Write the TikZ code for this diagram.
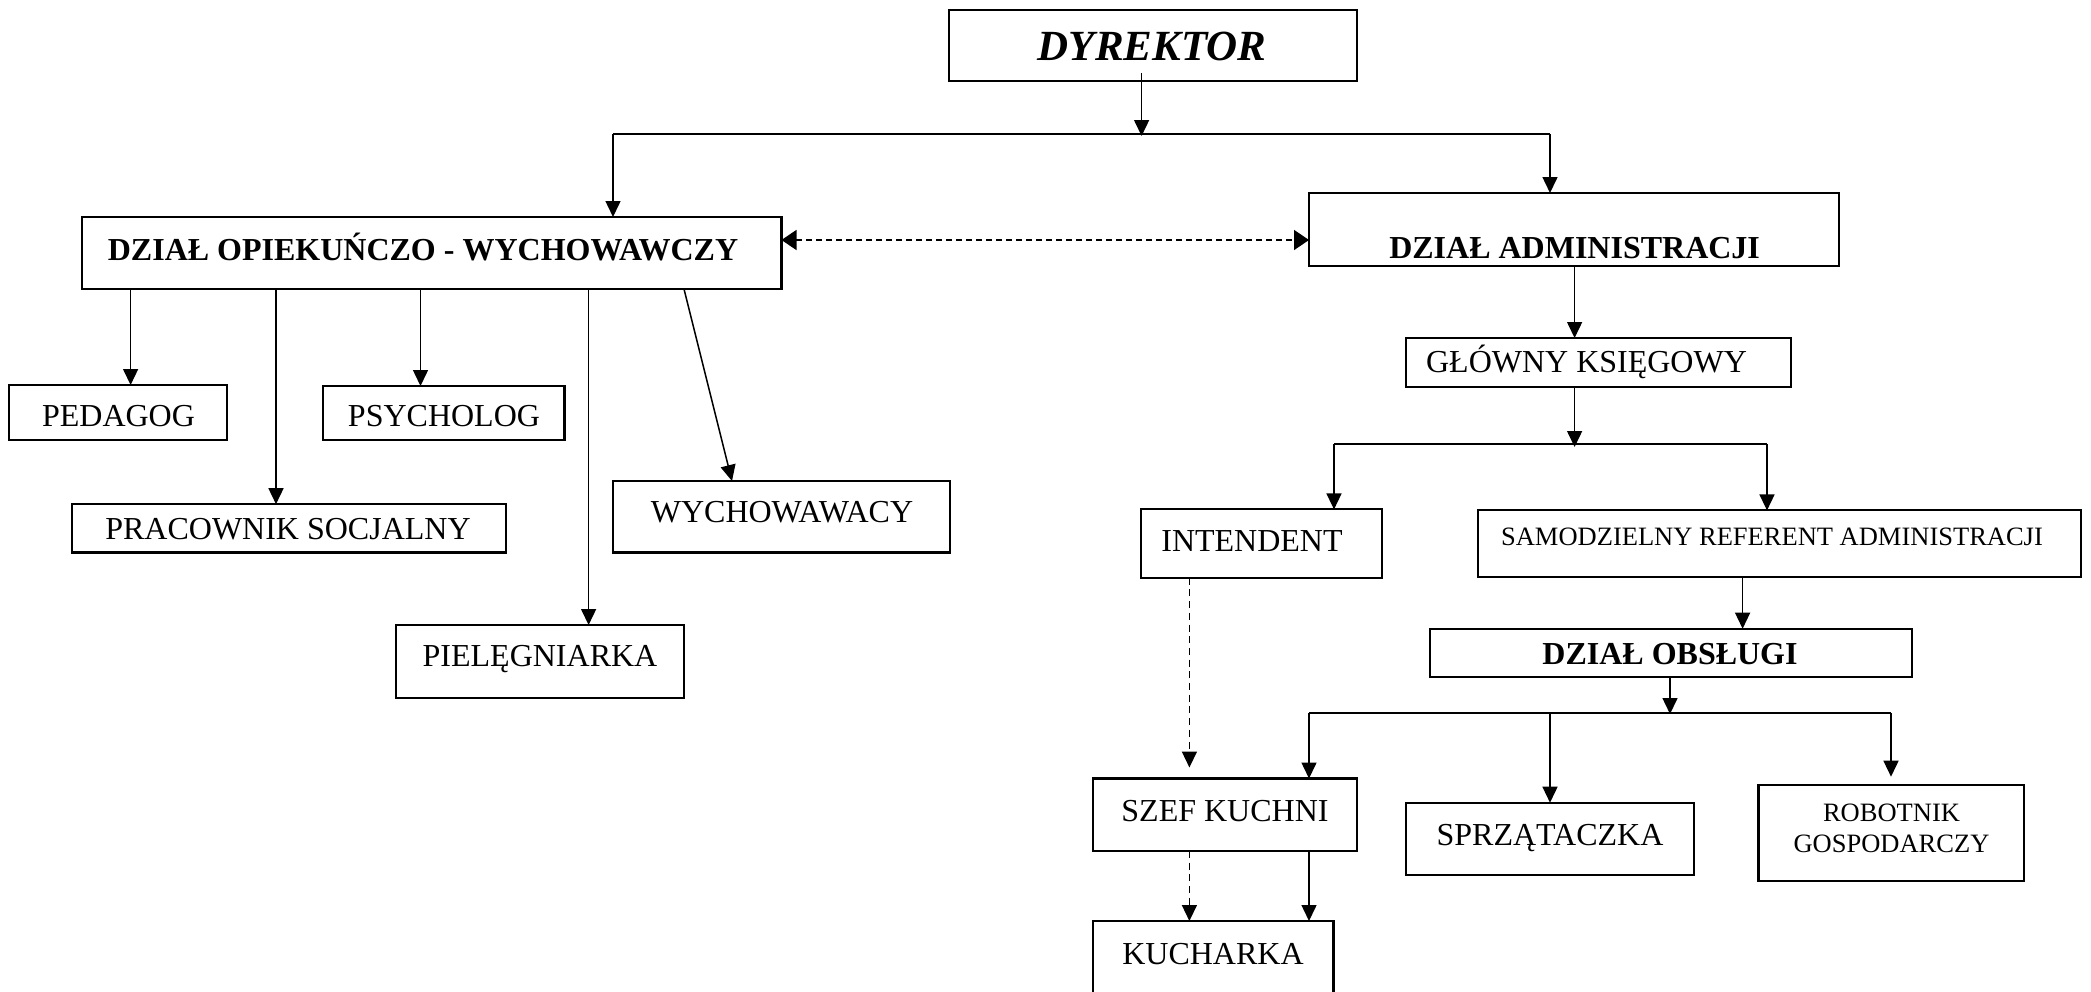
\documentclass[tikz,border=0pt]{standalone}
\usepackage{fontspec}
\setmainfont{Liberation Serif}
\usetikzlibrary{arrows.meta,calc}
\newcommand{\orgbox}[5]{%
  \node[box, minimum width={(#4)-(#2)}, minimum height={(#5)-(#3)}] (#1) at ({((#2)+(#4))/2},{((#3)+(#5))/2}) {};}
\begin{document}
\begin{tikzpicture}[x=1pt,y=-1pt,
  box/.style={draw, line width=2.1pt, inner sep=0pt, outer sep=0pt},
  txt/.style={inner sep=0pt, anchor=base, font=\fontsize{32}{38}\selectfont},
  txtb/.style={inner sep=0pt, anchor=base, font=\bfseries\fontsize{32}{38}\selectfont},
  txts/.style={inner sep=0pt, anchor=base, font=\fontsize{26.5}{32}\selectfont},
  txtd/.style={inner sep=0pt, anchor=base, font=\bfseries\itshape\fontsize{43}{50}\selectfont},
  conn/.style={line width=1.5pt},
  arr/.style={conn, -{Triangle[length=16pt,width=15pt]}},
  darr/.style={conn, dash pattern=on 7pt off 4.7pt, -{Triangle[length=16pt,width=15pt]}},
  ddarr/.style={conn, dash pattern=on 6pt off 4pt, {Triangle[length=15pt,width=20pt]}-{Triangle[length=15pt,width=20pt]}},
]
\fill[white] (0,0) rectangle (2091,991);
\useasboundingbox (0,0) rectangle (2091,991);

% boxes
\orgbox{dyr}{949}{10}{1357}{81}
\orgbox{dop}{82}{217}{781.5}{289}
\orgbox{dadm}{1309}{193}{1839}{266}
\orgbox{glo}{1406}{338}{1791}{387}
\orgbox{ped}{9.4}{385}{227}{440}
\orgbox{psy}{323.4}{386}{564.5}{440}
\orgbox{prac}{71.7}{504.2}{505.6}{552.5}
\orgbox{wych}{612.7}{481}{949.6}{552.5}
\orgbox{piel}{395.8}{625}{684.4}{697.8}
\orgbox{int}{1141}{509.4}{1382}{577.7}
\orgbox{samo}{1477.6}{510.4}{2081}{577}
\orgbox{dobs}{1430}{628.7}{1912}{677}
\orgbox{szef}{1093}{778.5}{1357.4}{851}
\orgbox{sprz}{1406}{802.7}{1694}{875.1}
\orgbox{rob}{1758.5}{784.7}{2024}{881.3}
\orgbox{kuch}{1093}{921}{1333.5}{1012}

% texts
\node[txtd] (dyr-t) at (1152,60.7) {DYREKTOR};
\node[txtb] (dop-t) at (423,260) {DZIAŁ OPIEKUŃCZO - WYCHOWAWCZY};
\node[txtb] (dadm-t) at (1574.6,258.3) {DZIAŁ ADMINISTRACJI};
\node[txt] (glo-t) at (1586.5,372.7) {GŁÓWNY KSIĘGOWY};
\node[txt] (ped-t) at (118.5,426) {PEDAGOG};
\node[txt] (psy-t) at (444,426.7) {PSYCHOLOG};
\node[txt] (prac-t) at (288,539) {PRACOWNIK SOCJALNY};
\node[txt] (wych-t) at (782,522.5) {WYCHOWAWACY};
\node[txt] (piel-t) at (540,666.7) {PIELĘGNIARKA};
\node[txt] (int-t) at (1252,551.8) {INTENDENT};
\node[txts] (samo-t) at (1772,545.9) {SAMODZIELNY REFERENT ADMINISTRACJI};
\node[txtb] (dobs-t) at (1670,664.6) {DZIAŁ OBSŁUGI};
\node[txt] (szef-t) at (1225,821) {SZEF KUCHNI};
\node[txt] (sprz-t) at (1550,845.1) {SPRZĄTACZKA};
\node[txts] (rob-t1) at (1891.5,821) {ROBOTNIK};
\node[txts] (rob-t2) at (1891.5,852) {GOSPODARCZY};
\node[txt] (kuch-t) at (1213,964.1) {KUCHARKA};

% junction coordinates
\coordinate (jtop) at (1141.6,136);
\coordinate (jl) at (613,134);
\coordinate (jr) at (1550,134);
\coordinate (dy) at (0,240);
\coordinate (xadm) at (1574.6,0);
\coordinate (jg) at (1574.6,447);
\coordinate (jgl) at (1334,444);
\coordinate (jgr) at (1767,444);
\coordinate (xsamo) at (1742.6,0);
\coordinate (jo) at (1670,714);
\coordinate (jol) at (1309,713);
\coordinate (jom) at (1550,713);
\coordinate (jor) at (1891,713);
\coordinate (xint) at (1189.4,0);
\coordinate (xped) at (130.6,0);
\coordinate (xprac) at (276,0);
\coordinate (xpsy) at (420.5,0);
\coordinate (xpiel) at (588.6,0);
\coordinate (xw1) at (684,0);
\coordinate (xw2) at (732,0);

% connectors
\draw[arr] ([yshift=8pt]dyr.south -| jtop) -- (jtop);
\draw[conn] (jl) -- (jr);
\draw[arr] (jl) -- (jl |- dop.north);
\draw[arr] (jr) -- (jr |- dadm.north);
\draw[ddarr] (dop.east |- dy) -- (dadm.west |- dy);

\draw[arr] (dadm.south -| xadm) -- (glo.north -| xadm);
\draw[arr] (glo.south -| xadm) -- (jg);
\draw[conn] (jgl) -- (jgr);
\draw[arr] (jgl) -- (jgl |- int.north);
\draw[arr] (jgr) -- (jgr |- samo.north);
\draw[arr] (samo.south -| xsamo) -- (dobs.north -| xsamo);
\draw[arr] (dobs.south -| jo) -- (jo);
\draw[conn] (jol) -- (jor);
\draw[arr] (jol) -- (jol |- szef.north);
\draw[arr] (jom) -- (jom |- sprz.north);
\draw[arr, shorten >=8pt] (jor) -- (jor |- rob.north);
\draw[darr, shorten >=11pt] (int.south -| xint) -- (szef.north -| xint);
\draw[darr] (szef.south -| xint) -- (kuch.north -| xint);
\draw[arr] (szef.south -| jol) -- (kuch.north -| jol);

\draw[arr] (dop.south -| xped) -- (ped.north -| xped);
\draw[arr] (dop.south -| xprac) -- (prac.north -| xprac);
\draw[arr] (dop.south -| xpsy) -- (psy.north -| xpsy);
\draw[arr] (dop.south -| xpiel) -- (piel.north -| xpiel);
\draw[arr] (dop.south -| xw1) -- (wych.north -| xw2);
\end{tikzpicture}
\end{document}
